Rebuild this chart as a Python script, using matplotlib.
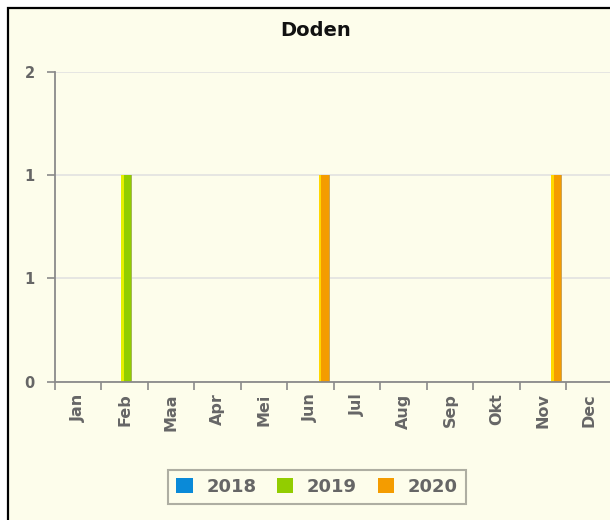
import numpy as np
import matplotlib
matplotlib.use("Agg")
import matplotlib.pyplot as plt
from matplotlib.patches import Rectangle
from matplotlib.ticker import FuncFormatter, FixedLocator

months = ["Jan", "Feb", "Maa", "Apr", "Mei", "Jun", "Jul", "Aug", "Sep", "Okt", "Nov", "Dec"]
years = ["2018", "2019", "2020"]
deaths_2018 = [0, 0, 0, 0, 0, 0, 0, 0, 0, 0, 0, 0]
deaths_2019 = [0, 1, 0, 0, 0, 0, 0, 0, 0, 0, 0, 0]
deaths_2020 = [0, 0, 0, 0, 0, 1, 0, 0, 0, 0, 1, 0]
series = [deaths_2018, deaths_2019, deaths_2020]
colors = ["#0a8ad8", "#92cd00", "#f49c00"]
highlights = ["#60c8ff", "#e4f000", "#ffd800"]
y_ticks = [0, 0.5, 1.0, 1.5]

W, H = 610, 520
fig = plt.figure(figsize=(W / 100, H / 100), dpi=100, facecolor="white")
cream = "#fdfdeb"

# outer frame (chart is cropped on right/bottom)
frame = Rectangle((8 / W, -0.2), 1.5, 1.2 - 8 / H, transform=fig.transFigure,
                  facecolor=cream, edgecolor="black", linewidth=1.6, zorder=-5)
fig.add_artist(frame)

left, right, top, bottom = 55, 612.5, 72, 381.5
ax = fig.add_axes([left / W, 1 - bottom / H, (right - left) / W, (bottom - top) / H])
ax.set_facecolor("none")

x = np.arange(len(months)) + 0.5
bw = 0.237
offsets = [-0.208, 0.047, 0.30]
for vals, c, hc, off, lab in zip(series, colors, highlights, offsets, years):
    ax.bar(x + off, vals, width=bw, color=c, label=lab, zorder=3, linewidth=0)
    ax.bar(x + off - bw / 2 + 0.025, vals, width=0.05, color=hc, zorder=4, linewidth=0)
    ax.bar(x + off + bw / 2 - 0.012, vals, width=0.024, color="#b0a890", zorder=4, linewidth=0, alpha=0.6)

ax.set_xlim(0, len(months))
ax.set_ylim(0, 1.5)

ax.set_yticks(y_ticks)
ax.yaxis.set_major_formatter(FuncFormatter(lambda v, p: f"{int(np.floor(v + 0.5))}"))
ax.xaxis.set_major_locator(FixedLocator(np.arange(len(months) + 1)))
ax.xaxis.set_major_formatter(FuncFormatter(lambda v, p: ""))
ax.xaxis.set_minor_locator(FixedLocator(x))
ax.set_xticklabels(months, minor=True)

for s in ["top", "right"]:
    ax.spines[s].set_visible(False)
for s in ["left", "bottom"]:
    ax.spines[s].set_color("#8a8a8a")
    ax.spines[s].set_linewidth(1.3)
    ax.spines[s].set_zorder(5)

ax.tick_params(axis="y", which="major", length=5.5, width=1.2, color="#8a8a8a",
               labelcolor="#666666", labelsize=10.5, pad=9)
ax.tick_params(axis="x", which="major", length=5.5, width=1.2, color="#8a8a8a")
ax.tick_params(axis="x", which="minor", length=0, labelcolor="#666666", labelsize=11.5, pad=8.5,
               labelrotation=90)
for t in ax.get_yticklabels() + ax.get_xticklabels(minor=True):
    t.set_fontweight("bold")

ax.yaxis.grid(True, color="#e6e6e2", linewidth=1.4, zorder=1)
ax.set_axisbelow(True)

fig.text(316 / W, 1 - 30 / H, "Doden", ha="center", va="center", fontsize=14,
         fontweight="bold", color="#111111")

leg = fig.legend(loc="center", bbox_to_anchor=(317 / W, 1 - 487 / H), ncol=3,
                 fontsize=13, frameon=True, fancybox=False, handlelength=0.9,
                 handleheight=0.9, handletextpad=0.75, columnspacing=1.15,
                 borderpad=0.45, borderaxespad=0, labelcolor="#666666",
                 prop={"weight": "bold", "size": 13})
leg.get_frame().set_edgecolor("#9a9a90")
leg.get_frame().set_linewidth(1.5)
leg.get_frame().set_facecolor(cream)

fig.savefig("out.png", dpi=100, facecolor="white")
